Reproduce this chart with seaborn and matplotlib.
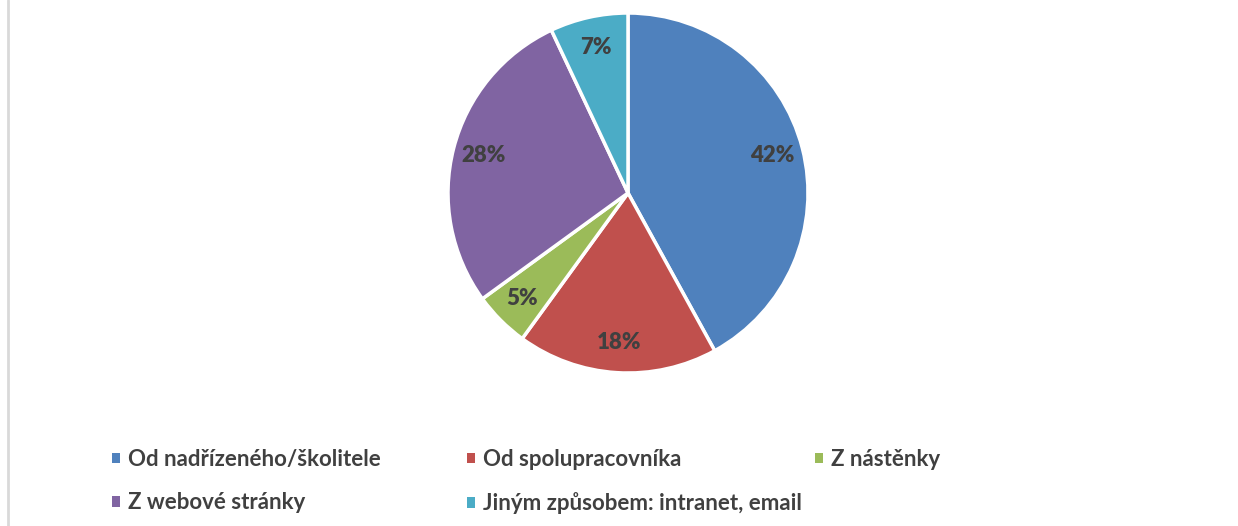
import numpy as np
import matplotlib
matplotlib.use("Agg")
import matplotlib.pyplot as plt
from matplotlib.lines import Line2D
from matplotlib.patches import Patch
import seaborn as sns

# ── Data ─────────────────────────────────────────────
categories = [
    "Od nadřízeného/školitele",
    "Od spolupracovníka",
    "Z nástěnky",
    "Z webové stránky",
    "Jiným způsobem: intranet, email",
]
shares = [42, 18, 5, 28, 7]
colors = ["#4F81BD", "#C0504D", "#9BBB59", "#8064A2", "#4BACC6"]

TEXT = "#404040"

sns.set_theme(style="white")
plt.rcParams["font.family"] = ["Lato", "DejaVu Sans"]

W, H = 1238, 526
fig = plt.figure(figsize=(W / 100, H / 100), dpi=100)
fig.patch.set_facecolor("white")

# pie axes: centre (628, 193) px, radius 180 px
cx, cy, r = 628, 193, 180
ax = fig.add_axes([(cx - r) / W, (H - cy - r) / H, 2 * r / W, 2 * r / H])
wedges, _, autotexts = ax.pie(
    shares,
    colors=colors,
    startangle=90,
    counterclock=False,
    autopct="%d%%",
    pctdistance=0.83,
    wedgeprops=dict(edgecolor="white", linewidth=2.5),
    textprops=dict(color=TEXT, fontsize=16, fontweight="heavy"),
)
ax.set_xlim(-1, 1)
ax.set_ylim(-1, 1)
ax.set_aspect("equal")

# legend: row-wise order like the original, laid out as three columns
handles = [Patch(facecolor=c, edgecolor="none") for c in colors]
cols = [[0, 3], [1, 4], [2]]
col_x = [112, 467, 815]
for idx, x in zip(cols, col_x):
    fig.legend(
        [handles[i] for i in idx], [categories[i] for i in idx],
        loc="upper left", bbox_to_anchor=(x / W, 1 - 449 / H),
        frameon=False, borderpad=0, borderaxespad=0,
        handlelength=0.36, handleheight=0.36,
        handletextpad=0.36, labelspacing=1.0,
        prop=dict(size=16, weight="bold"), labelcolor=TEXT,
    )

# thin grey border on the left edge
fig.add_artist(Line2D([7.5 / W, 7.5 / W], [0, 1], color="#D9D9D9", linewidth=2))

plt.savefig("out.png", dpi=100)
plt.close(fig)
